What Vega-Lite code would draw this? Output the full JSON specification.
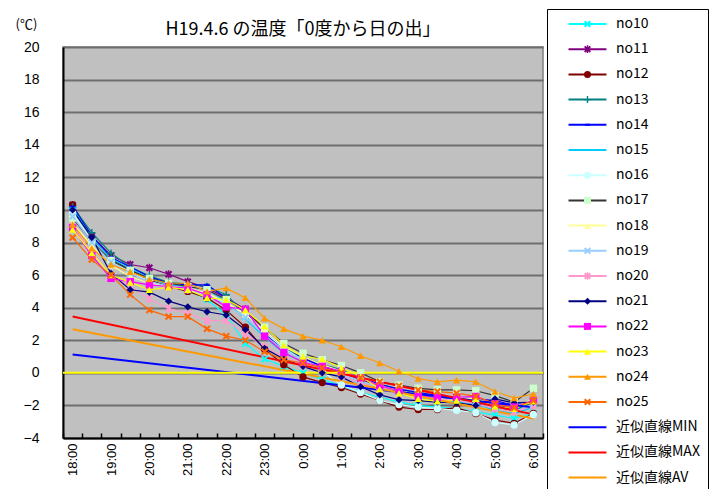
{
"$schema": "https://vega.github.io/schema/vega-lite/v6.json",
"width": 480, "height": 391,
"autosize": {"type": "none"},
"padding": {"left": 63, "top": 47, "right": 179, "bottom": 51},
"background": "white",
"title": {"text": "H19.4.6 の温度「0度から日の出」", "font": "Noto Sans CJK JP", "fontSize": 18, "fontWeight": "normal", "color": "#000000", "anchor": "middle", "offset": 0, "dy": 30},
"config": {"view": {"stroke": "#808080", "strokeWidth": 1.5, "fill": "#C0C0C0"}},
"datasets": {
"series": [
{"s":"no10","i":0,"t":"18:00","v":10.0},{"s":"no10","i":1,"t":"18:30","v":8.3},{"s":"no10","i":2,"t":"19:00","v":7.0},{"s":"no10","i":3,"t":"19:30","v":6.3},{"s":"no10","i":4,"t":"20:00","v":5.7},{"s":"no10","i":5,"t":"20:30","v":5.3},{"s":"no10","i":6,"t":"21:00","v":5.1},{"s":"no10","i":7,"t":"21:30","v":4.5},{"s":"no10","i":8,"t":"22:00","v":3.55},{"s":"no10","i":9,"t":"22:30","v":1.8},{"s":"no10","i":10,"t":"23:00","v":0.85},{"s":"no10","i":11,"t":"23:30","v":0.4},{"s":"no10","i":12,"t":"0:00","v":0.0},{"s":"no10","i":13,"t":"0:30","v":-0.4},{"s":"no10","i":14,"t":"1:00","v":-0.8},{"s":"no10","i":15,"t":"1:30","v":-1.2},{"s":"no10","i":16,"t":"2:00","v":-1.5},{"s":"no10","i":17,"t":"2:30","v":-1.8},{"s":"no10","i":18,"t":"3:00","v":-2.0},{"s":"no10","i":19,"t":"3:30","v":-2.1},{"s":"no10","i":20,"t":"4:00","v":-2.2},{"s":"no10","i":21,"t":"4:30","v":-2.4},{"s":"no10","i":22,"t":"5:00","v":-2.6},{"s":"no10","i":23,"t":"5:30","v":-2.8},{"s":"no10","i":24,"t":"6:00","v":-2.5},
{"s":"no11","i":0,"t":"18:00","v":10.3},{"s":"no11","i":1,"t":"18:30","v":8.4},{"s":"no11","i":2,"t":"19:00","v":7.2},{"s":"no11","i":3,"t":"19:30","v":6.65},{"s":"no11","i":4,"t":"20:00","v":6.45},{"s":"no11","i":5,"t":"20:30","v":6.05},{"s":"no11","i":6,"t":"21:00","v":5.6},{"s":"no11","i":7,"t":"21:30","v":5.2},{"s":"no11","i":8,"t":"22:00","v":4.6},{"s":"no11","i":9,"t":"22:30","v":3.9},{"s":"no11","i":10,"t":"23:00","v":2.6},{"s":"no11","i":11,"t":"23:30","v":1.6},{"s":"no11","i":12,"t":"0:00","v":0.9},{"s":"no11","i":13,"t":"0:30","v":0.4},{"s":"no11","i":14,"t":"1:00","v":0.0},{"s":"no11","i":15,"t":"1:30","v":-0.4},{"s":"no11","i":16,"t":"2:00","v":-0.8},{"s":"no11","i":17,"t":"2:30","v":-1.1},{"s":"no11","i":18,"t":"3:00","v":-1.3},{"s":"no11","i":19,"t":"3:30","v":-1.4},{"s":"no11","i":20,"t":"4:00","v":-1.5},{"s":"no11","i":21,"t":"4:30","v":-1.7},{"s":"no11","i":22,"t":"5:00","v":-2.0},{"s":"no11","i":23,"t":"5:30","v":-2.2},{"s":"no11","i":24,"t":"6:00","v":-1.8},
{"s":"no12","i":0,"t":"18:00","v":10.3},{"s":"no12","i":1,"t":"18:30","v":8.3},{"s":"no12","i":2,"t":"19:00","v":7.0},{"s":"no12","i":3,"t":"19:30","v":6.3},{"s":"no12","i":4,"t":"20:00","v":5.7},{"s":"no12","i":5,"t":"20:30","v":5.3},{"s":"no12","i":6,"t":"21:00","v":5.0},{"s":"no12","i":7,"t":"21:30","v":4.6},{"s":"no12","i":8,"t":"22:00","v":3.85},{"s":"no12","i":9,"t":"22:30","v":2.8},{"s":"no12","i":10,"t":"23:00","v":1.45},{"s":"no12","i":11,"t":"23:30","v":0.5},{"s":"no12","i":12,"t":"0:00","v":-0.25},{"s":"no12","i":13,"t":"0:30","v":-0.6},{"s":"no12","i":14,"t":"1:00","v":-0.9},{"s":"no12","i":15,"t":"1:30","v":-1.3},{"s":"no12","i":16,"t":"2:00","v":-1.7},{"s":"no12","i":17,"t":"2:30","v":-2.1},{"s":"no12","i":18,"t":"3:00","v":-2.25},{"s":"no12","i":19,"t":"3:30","v":-2.25},{"s":"no12","i":20,"t":"4:00","v":-2.15},{"s":"no12","i":21,"t":"4:30","v":-2.5},{"s":"no12","i":22,"t":"5:00","v":-2.9},{"s":"no12","i":23,"t":"5:30","v":-3.1},{"s":"no12","i":24,"t":"6:00","v":-2.5},
{"s":"no13","i":0,"t":"18:00","v":10.2},{"s":"no13","i":1,"t":"18:30","v":8.6},{"s":"no13","i":2,"t":"19:00","v":7.35},{"s":"no13","i":3,"t":"19:30","v":6.5},{"s":"no13","i":4,"t":"20:00","v":5.95},{"s":"no13","i":5,"t":"20:30","v":5.55},{"s":"no13","i":6,"t":"21:00","v":5.45},{"s":"no13","i":7,"t":"21:30","v":5.3},{"s":"no13","i":8,"t":"22:00","v":4.8},{"s":"no13","i":9,"t":"22:30","v":3.6},{"s":"no13","i":10,"t":"23:00","v":2.5},{"s":"no13","i":11,"t":"23:30","v":1.5},{"s":"no13","i":12,"t":"0:00","v":1.0},{"s":"no13","i":13,"t":"0:30","v":0.5},{"s":"no13","i":14,"t":"1:00","v":0.2},{"s":"no13","i":15,"t":"1:30","v":-0.3},{"s":"no13","i":16,"t":"2:00","v":-0.7},{"s":"no13","i":17,"t":"2:30","v":-1.0},{"s":"no13","i":18,"t":"3:00","v":-1.3},{"s":"no13","i":19,"t":"3:30","v":-1.5},{"s":"no13","i":20,"t":"4:00","v":-1.6},{"s":"no13","i":21,"t":"4:30","v":-1.7},{"s":"no13","i":22,"t":"5:00","v":-2.2},{"s":"no13","i":23,"t":"5:30","v":-2.3},{"s":"no13","i":24,"t":"6:00","v":-1.8},
{"s":"no14","i":0,"t":"18:00","v":10.2},{"s":"no14","i":1,"t":"18:30","v":8.4},{"s":"no14","i":2,"t":"19:00","v":7.1},{"s":"no14","i":3,"t":"19:30","v":6.5},{"s":"no14","i":4,"t":"20:00","v":5.9},{"s":"no14","i":5,"t":"20:30","v":5.5},{"s":"no14","i":6,"t":"21:00","v":5.4},{"s":"no14","i":7,"t":"21:30","v":5.4},{"s":"no14","i":8,"t":"22:00","v":4.6},{"s":"no14","i":9,"t":"22:30","v":3.7},{"s":"no14","i":10,"t":"23:00","v":2.4},{"s":"no14","i":11,"t":"23:30","v":1.4},{"s":"no14","i":12,"t":"0:00","v":0.9},{"s":"no14","i":13,"t":"0:30","v":0.4},{"s":"no14","i":14,"t":"1:00","v":0.1},{"s":"no14","i":15,"t":"1:30","v":-0.3},{"s":"no14","i":16,"t":"2:00","v":-0.7},{"s":"no14","i":17,"t":"2:30","v":-1.0},{"s":"no14","i":18,"t":"3:00","v":-1.2},{"s":"no14","i":19,"t":"3:30","v":-1.4},{"s":"no14","i":20,"t":"4:00","v":-1.5},{"s":"no14","i":21,"t":"4:30","v":-1.6},{"s":"no14","i":22,"t":"5:00","v":-1.7},{"s":"no14","i":23,"t":"5:30","v":-2.0},{"s":"no14","i":24,"t":"6:00","v":-1.7},
{"s":"no15","i":0,"t":"18:00","v":10.1},{"s":"no15","i":1,"t":"18:30","v":8.3},{"s":"no15","i":2,"t":"19:00","v":7.0},{"s":"no15","i":3,"t":"19:30","v":6.4},{"s":"no15","i":4,"t":"20:00","v":5.8},{"s":"no15","i":5,"t":"20:30","v":5.4},{"s":"no15","i":6,"t":"21:00","v":5.3},{"s":"no15","i":7,"t":"21:30","v":5.1},{"s":"no15","i":8,"t":"22:00","v":4.4},{"s":"no15","i":9,"t":"22:30","v":3.3},{"s":"no15","i":10,"t":"23:00","v":2.2},{"s":"no15","i":11,"t":"23:30","v":1.2},{"s":"no15","i":12,"t":"0:00","v":0.7},{"s":"no15","i":13,"t":"0:30","v":0.2},{"s":"no15","i":14,"t":"1:00","v":-0.2},{"s":"no15","i":15,"t":"1:30","v":-0.6},{"s":"no15","i":16,"t":"2:00","v":-1.0},{"s":"no15","i":17,"t":"2:30","v":-1.3},{"s":"no15","i":18,"t":"3:00","v":-1.5},{"s":"no15","i":19,"t":"3:30","v":-1.7},{"s":"no15","i":20,"t":"4:00","v":-1.8},{"s":"no15","i":21,"t":"4:30","v":-1.9},{"s":"no15","i":22,"t":"5:00","v":-2.3},{"s":"no15","i":23,"t":"5:30","v":-2.5},{"s":"no15","i":24,"t":"6:00","v":-2.1},
{"s":"no16","i":0,"t":"18:00","v":9.8},{"s":"no16","i":1,"t":"18:30","v":8.1},{"s":"no16","i":2,"t":"19:00","v":6.9},{"s":"no16","i":3,"t":"19:30","v":6.2},{"s":"no16","i":4,"t":"20:00","v":5.6},{"s":"no16","i":5,"t":"20:30","v":5.3},{"s":"no16","i":6,"t":"21:00","v":5.1},{"s":"no16","i":7,"t":"21:30","v":4.8},{"s":"no16","i":8,"t":"22:00","v":4.3},{"s":"no16","i":9,"t":"22:30","v":3.6},{"s":"no16","i":10,"t":"23:00","v":2.5},{"s":"no16","i":11,"t":"23:30","v":1.5},{"s":"no16","i":12,"t":"0:00","v":0.8},{"s":"no16","i":13,"t":"0:30","v":0.1},{"s":"no16","i":14,"t":"1:00","v":-0.75},{"s":"no16","i":15,"t":"1:30","v":-1.2},{"s":"no16","i":16,"t":"2:00","v":-1.7},{"s":"no16","i":17,"t":"2:30","v":-1.95},{"s":"no16","i":18,"t":"3:00","v":-2.1},{"s":"no16","i":19,"t":"3:30","v":-2.2},{"s":"no16","i":20,"t":"4:00","v":-2.3},{"s":"no16","i":21,"t":"4:30","v":-2.45},{"s":"no16","i":22,"t":"5:00","v":-3.05},{"s":"no16","i":23,"t":"5:30","v":-3.2},{"s":"no16","i":24,"t":"6:00","v":-2.55},
{"s":"no17","i":0,"t":"18:00","v":9.5},{"s":"no17","i":1,"t":"18:30","v":8.05},{"s":"no17","i":2,"t":"19:00","v":6.9},{"s":"no17","i":3,"t":"19:30","v":6.3},{"s":"no17","i":4,"t":"20:00","v":5.8},{"s":"no17","i":5,"t":"20:30","v":5.5},{"s":"no17","i":6,"t":"21:00","v":5.3},{"s":"no17","i":7,"t":"21:30","v":5.1},{"s":"no17","i":8,"t":"22:00","v":4.5},{"s":"no17","i":9,"t":"22:30","v":3.8},{"s":"no17","i":10,"t":"23:00","v":2.8},{"s":"no17","i":11,"t":"23:30","v":1.8},{"s":"no17","i":12,"t":"0:00","v":1.2},{"s":"no17","i":13,"t":"0:30","v":0.8},{"s":"no17","i":14,"t":"1:00","v":0.45},{"s":"no17","i":15,"t":"1:30","v":0.0},{"s":"no17","i":16,"t":"2:00","v":-0.55},{"s":"no17","i":17,"t":"2:30","v":-0.75},{"s":"no17","i":18,"t":"3:00","v":-0.95},{"s":"no17","i":19,"t":"3:30","v":-1.05},{"s":"no17","i":20,"t":"4:00","v":-1.05},{"s":"no17","i":21,"t":"4:30","v":-1.1},{"s":"no17","i":22,"t":"5:00","v":-1.4},{"s":"no17","i":23,"t":"5:30","v":-1.8},{"s":"no17","i":24,"t":"6:00","v":-0.95},
{"s":"no18","i":0,"t":"18:00","v":9.2},{"s":"no18","i":1,"t":"18:30","v":7.8},{"s":"no18","i":2,"t":"19:00","v":6.6},{"s":"no18","i":3,"t":"19:30","v":5.9},{"s":"no18","i":4,"t":"20:00","v":5.5},{"s":"no18","i":5,"t":"20:30","v":5.3},{"s":"no18","i":6,"t":"21:00","v":5.2},{"s":"no18","i":7,"t":"21:30","v":4.9},{"s":"no18","i":8,"t":"22:00","v":4.3},{"s":"no18","i":9,"t":"22:30","v":3.6},{"s":"no18","i":10,"t":"23:00","v":2.6},{"s":"no18","i":11,"t":"23:30","v":1.6},{"s":"no18","i":12,"t":"0:00","v":1.0},{"s":"no18","i":13,"t":"0:30","v":0.5},{"s":"no18","i":14,"t":"1:00","v":0.1},{"s":"no18","i":15,"t":"1:30","v":-0.3},{"s":"no18","i":16,"t":"2:00","v":-0.8},{"s":"no18","i":17,"t":"2:30","v":-1.1},{"s":"no18","i":18,"t":"3:00","v":-1.3},{"s":"no18","i":19,"t":"3:30","v":-1.5},{"s":"no18","i":20,"t":"4:00","v":-1.5},{"s":"no18","i":21,"t":"4:30","v":-1.6},{"s":"no18","i":22,"t":"5:00","v":-1.9},{"s":"no18","i":23,"t":"5:30","v":-2.1},{"s":"no18","i":24,"t":"6:00","v":-1.6},
{"s":"no19","i":0,"t":"18:00","v":9.6},{"s":"no19","i":1,"t":"18:30","v":8.0},{"s":"no19","i":2,"t":"19:00","v":6.8},{"s":"no19","i":3,"t":"19:30","v":6.1},{"s":"no19","i":4,"t":"20:00","v":5.6},{"s":"no19","i":5,"t":"20:30","v":5.3},{"s":"no19","i":6,"t":"21:00","v":5.1},{"s":"no19","i":7,"t":"21:30","v":4.8},{"s":"no19","i":8,"t":"22:00","v":4.2},{"s":"no19","i":9,"t":"22:30","v":3.4},{"s":"no19","i":10,"t":"23:00","v":2.3},{"s":"no19","i":11,"t":"23:30","v":1.4},{"s":"no19","i":12,"t":"0:00","v":0.8},{"s":"no19","i":13,"t":"0:30","v":0.3},{"s":"no19","i":14,"t":"1:00","v":-0.1},{"s":"no19","i":15,"t":"1:30","v":-0.5},{"s":"no19","i":16,"t":"2:00","v":-0.9},{"s":"no19","i":17,"t":"2:30","v":-1.2},{"s":"no19","i":18,"t":"3:00","v":-1.4},{"s":"no19","i":19,"t":"3:30","v":-1.6},{"s":"no19","i":20,"t":"4:00","v":-1.7},{"s":"no19","i":21,"t":"4:30","v":-1.8},{"s":"no19","i":22,"t":"5:00","v":-2.2},{"s":"no19","i":23,"t":"5:30","v":-2.4},{"s":"no19","i":24,"t":"6:00","v":-1.9},
{"s":"no20","i":0,"t":"18:00","v":9.0},{"s":"no20","i":1,"t":"18:30","v":7.4},{"s":"no20","i":2,"t":"19:00","v":6.0},{"s":"no20","i":3,"t":"19:30","v":5.3},{"s":"no20","i":4,"t":"20:00","v":4.55},{"s":"no20","i":5,"t":"20:30","v":3.95},{"s":"no20","i":6,"t":"21:00","v":3.65},{"s":"no20","i":7,"t":"21:30","v":3.2},{"s":"no20","i":8,"t":"22:00","v":3.2},{"s":"no20","i":9,"t":"22:30","v":2.4},{"s":"no20","i":10,"t":"23:00","v":1.6},{"s":"no20","i":11,"t":"23:30","v":1.0},{"s":"no20","i":12,"t":"0:00","v":0.5},{"s":"no20","i":13,"t":"0:30","v":0.2},{"s":"no20","i":14,"t":"1:00","v":-0.2},{"s":"no20","i":15,"t":"1:30","v":-0.6},{"s":"no20","i":16,"t":"2:00","v":-1.0},{"s":"no20","i":17,"t":"2:30","v":-1.3},{"s":"no20","i":18,"t":"3:00","v":-1.5},{"s":"no20","i":19,"t":"3:30","v":-1.6},{"s":"no20","i":20,"t":"4:00","v":-1.7},{"s":"no20","i":21,"t":"4:30","v":-1.9},{"s":"no20","i":22,"t":"5:00","v":-2.2},{"s":"no20","i":23,"t":"5:30","v":-2.4},{"s":"no20","i":24,"t":"6:00","v":-2.0},
{"s":"no21","i":0,"t":"18:00","v":10.0},{"s":"no21","i":1,"t":"18:30","v":8.3},{"s":"no21","i":2,"t":"19:00","v":6.1},{"s":"no21","i":3,"t":"19:30","v":5.1},{"s":"no21","i":4,"t":"20:00","v":4.95},{"s":"no21","i":5,"t":"20:30","v":4.4},{"s":"no21","i":6,"t":"21:00","v":4.05},{"s":"no21","i":7,"t":"21:30","v":3.75},{"s":"no21","i":8,"t":"22:00","v":3.55},{"s":"no21","i":9,"t":"22:30","v":2.65},{"s":"no21","i":10,"t":"23:00","v":1.5},{"s":"no21","i":11,"t":"23:30","v":0.85},{"s":"no21","i":12,"t":"0:00","v":0.4},{"s":"no21","i":13,"t":"0:30","v":0.0},{"s":"no21","i":14,"t":"1:00","v":-0.25},{"s":"no21","i":15,"t":"1:30","v":-0.85},{"s":"no21","i":16,"t":"2:00","v":-1.35},{"s":"no21","i":17,"t":"2:30","v":-1.65},{"s":"no21","i":18,"t":"3:00","v":-1.7},{"s":"no21","i":19,"t":"3:30","v":-1.8},{"s":"no21","i":20,"t":"4:00","v":-1.85},{"s":"no21","i":21,"t":"4:30","v":-2.0},{"s":"no21","i":22,"t":"5:00","v":-1.6},{"s":"no21","i":23,"t":"5:30","v":-1.85},{"s":"no21","i":24,"t":"6:00","v":-1.8},
{"s":"no22","i":0,"t":"18:00","v":8.9},{"s":"no22","i":1,"t":"18:30","v":7.2},{"s":"no22","i":2,"t":"19:00","v":5.8},{"s":"no22","i":3,"t":"19:30","v":5.6},{"s":"no22","i":4,"t":"20:00","v":5.4},{"s":"no22","i":5,"t":"20:30","v":5.3},{"s":"no22","i":6,"t":"21:00","v":5.2},{"s":"no22","i":7,"t":"21:30","v":4.8},{"s":"no22","i":8,"t":"22:00","v":4.05},{"s":"no22","i":9,"t":"22:30","v":3.9},{"s":"no22","i":10,"t":"23:00","v":2.25},{"s":"no22","i":11,"t":"23:30","v":1.25},{"s":"no22","i":12,"t":"0:00","v":0.65},{"s":"no22","i":13,"t":"0:30","v":0.4},{"s":"no22","i":14,"t":"1:00","v":0.1},{"s":"no22","i":15,"t":"1:30","v":-0.3},{"s":"no22","i":16,"t":"2:00","v":-0.8},{"s":"no22","i":17,"t":"2:30","v":-1.1},{"s":"no22","i":18,"t":"3:00","v":-1.45},{"s":"no22","i":19,"t":"3:30","v":-1.5},{"s":"no22","i":20,"t":"4:00","v":-1.5},{"s":"no22","i":21,"t":"4:30","v":-1.45},{"s":"no22","i":22,"t":"5:00","v":-1.9},{"s":"no22","i":23,"t":"5:30","v":-2.1},{"s":"no22","i":24,"t":"6:00","v":-1.7},
{"s":"no23","i":0,"t":"18:00","v":8.8},{"s":"no23","i":1,"t":"18:30","v":7.35},{"s":"no23","i":2,"t":"19:00","v":6.0},{"s":"no23","i":3,"t":"19:30","v":5.55},{"s":"no23","i":4,"t":"20:00","v":5.1},{"s":"no23","i":5,"t":"20:30","v":5.25},{"s":"no23","i":6,"t":"21:00","v":5.1},{"s":"no23","i":7,"t":"21:30","v":4.6},{"s":"no23","i":8,"t":"22:00","v":4.5},{"s":"no23","i":9,"t":"22:30","v":3.85},{"s":"no23","i":10,"t":"23:00","v":2.85},{"s":"no23","i":11,"t":"23:30","v":1.7},{"s":"no23","i":12,"t":"0:00","v":1.0},{"s":"no23","i":13,"t":"0:30","v":0.85},{"s":"no23","i":14,"t":"1:00","v":0.3},{"s":"no23","i":15,"t":"1:30","v":-0.2},{"s":"no23","i":16,"t":"2:00","v":-1.0},{"s":"no23","i":17,"t":"2:30","v":-1.25},{"s":"no23","i":18,"t":"3:00","v":-1.6},{"s":"no23","i":19,"t":"3:30","v":-1.75},{"s":"no23","i":20,"t":"4:00","v":-1.7},{"s":"no23","i":21,"t":"4:30","v":-1.6},{"s":"no23","i":22,"t":"5:00","v":-2.05},{"s":"no23","i":23,"t":"5:30","v":-2.2},{"s":"no23","i":24,"t":"6:00","v":-1.75},
{"s":"no24","i":0,"t":"18:00","v":9.1},{"s":"no24","i":1,"t":"18:30","v":7.65},{"s":"no24","i":2,"t":"19:00","v":6.65},{"s":"no24","i":3,"t":"19:30","v":6.2},{"s":"no24","i":4,"t":"20:00","v":5.75},{"s":"no24","i":5,"t":"20:30","v":5.5},{"s":"no24","i":6,"t":"21:00","v":5.5},{"s":"no24","i":7,"t":"21:30","v":5.0},{"s":"no24","i":8,"t":"22:00","v":5.2},{"s":"no24","i":9,"t":"22:30","v":4.6},{"s":"no24","i":10,"t":"23:00","v":3.35},{"s":"no24","i":11,"t":"23:30","v":2.7},{"s":"no24","i":12,"t":"0:00","v":2.25},{"s":"no24","i":13,"t":"0:30","v":2.0},{"s":"no24","i":14,"t":"1:00","v":1.6},{"s":"no24","i":15,"t":"1:30","v":1.05},{"s":"no24","i":16,"t":"2:00","v":0.6},{"s":"no24","i":17,"t":"2:30","v":0.1},{"s":"no24","i":18,"t":"3:00","v":-0.35},{"s":"no24","i":19,"t":"3:30","v":-0.55},{"s":"no24","i":20,"t":"4:00","v":-0.45},{"s":"no24","i":21,"t":"4:30","v":-0.55},{"s":"no24","i":22,"t":"5:00","v":-1.15},{"s":"no24","i":23,"t":"5:30","v":-1.55},{"s":"no24","i":24,"t":"6:00","v":-1.3},
{"s":"no25","i":0,"t":"18:00","v":8.3},{"s":"no25","i":1,"t":"18:30","v":6.95},{"s":"no25","i":2,"t":"19:00","v":6.0},{"s":"no25","i":3,"t":"19:30","v":4.8},{"s":"no25","i":4,"t":"20:00","v":3.85},{"s":"no25","i":5,"t":"20:30","v":3.45},{"s":"no25","i":6,"t":"21:00","v":3.45},{"s":"no25","i":7,"t":"21:30","v":2.7},{"s":"no25","i":8,"t":"22:00","v":2.25},{"s":"no25","i":9,"t":"22:30","v":2.0},{"s":"no25","i":10,"t":"23:00","v":1.3},{"s":"no25","i":11,"t":"23:30","v":0.8},{"s":"no25","i":12,"t":"0:00","v":0.6},{"s":"no25","i":13,"t":"0:30","v":0.3},{"s":"no25","i":14,"t":"1:00","v":0.0},{"s":"no25","i":15,"t":"1:30","v":-0.3},{"s":"no25","i":16,"t":"2:00","v":-0.55},{"s":"no25","i":17,"t":"2:30","v":-0.8},{"s":"no25","i":18,"t":"3:00","v":-1.05},{"s":"no25","i":19,"t":"3:30","v":-1.15},{"s":"no25","i":20,"t":"4:00","v":-1.25},{"s":"no25","i":21,"t":"4:30","v":-1.45},{"s":"no25","i":22,"t":"5:00","v":-1.9},{"s":"no25","i":23,"t":"5:30","v":-2.15},{"s":"no25","i":24,"t":"6:00","v":-1.7}
],
"trend": [
{"s":"近似直線MIN","i":0,"t":"18:00","v":1.13},{"s":"近似直線MIN","i":24,"t":"6:00","v":-2.12},
{"s":"近似直線MAX","i":0,"t":"18:00","v":3.46},{"s":"近似直線MAX","i":24,"t":"6:00","v":-2.55},
{"s":"近似直線AV","i":0,"t":"18:00","v":2.68},{"s":"近似直線AV","i":24,"t":"6:00","v":-2.8}
],
"zero": [{"z": 0}]
},
"layer": [
{"data": {"name": "series"},
 "mark": {"type": "line", "strokeWidth": 1.2},
 "encoding": {
  "x": {"field": "t", "type": "ordinal",
   "scale": {"type": "band", "paddingInner": 0, "paddingOuter": 0, "domain": ["18:00","18:30","19:00","19:30","20:00","20:30","21:00","21:30","22:00","22:30","23:00","23:30","0:00","0:30","1:00","1:30","2:00","2:30","3:00","3:30","4:00","4:30","5:00","5:30","6:00"]},
   "axis": {"title": null, "orient": "bottom", "labelAngle": -90, "labelFont": "Liberation Sans", "labelFontSize": 13, "labelColor": "#000000", "labelPadding": 10, "labelExpr": "indexof('' + datum.value, ':00') > 0 ? ('' + datum.value) : ''", "labelOverlap": false, "tickBand": "extent", "tickSize": -5, "tickColor": "#000000", "tickWidth": 1.5, "domainColor": "#000000", "domainWidth": 2, "grid": false}},
  "y": {"field": "v", "type": "quantitative",
   "scale": {"domain": [-4, 20], "nice": false, "zero": false},
   "axis": {"title": "(℃)", "orient": "left", "titleAngle": 0, "titleX": -48, "titleY": -23, "titleAlign": "left", "titleBaseline": "middle", "titleFont": "Noto Sans CJK JP", "titleFontSize": 13, "titleFontWeight": "normal", "titleColor": "#000000", "values": [-4,-2,0,2,4,6,8,10,12,14,16,18,20], "tickCount": 30, "labelOverlap": false, "labelFont": "Liberation Sans", "labelFontSize": 14, "labelColor": "#000000", "labelPadding": 24, "ticks": false, "domainColor": "#000000", "domainWidth": 2, "gridColor": "#6e6e6e", "gridWidth": 2}},
  "stroke": {"field": "s", "type": "nominal",
   "scale": {"domain": ["no10","no11","no12","no13","no14","no15","no16","no17","no18","no19","no20","no21","no22","no23","no24","no25","近似直線MIN","近似直線MAX","近似直線AV"],
    "range": ["#00FFFF","#800080","#800000","#008080","#0000FF","#00CCFF","#CCFFFF","#333333","#FFFF99","#99CCFF","#FF99CC","#000080","#FF00FF","#FFFF00","#FF9900","#FF6600","#0000FF","#FF0000","#FF9900"]},
   "legend": {"orient": "none", "legendX": 484, "legendY": -38, "direction": "vertical", "title": null, "symbolType": "M1.86,0H12.7", "symbolSize": 49, "symbolStrokeWidth": 2, "labelFont": "Noto Sans CJK JP", "labelFontSize": 14, "labelColor": "#000000", "labelOffset": 47, "labelLimit": 300, "rowPadding": 11.2, "padding": 8, "strokeColor": "#000000"}},
  "order": {"field": "i", "type": "quantitative"}
 }},
{"data": {"name": "trend"},
 "mark": {"type": "line", "strokeWidth": 2},
 "encoding": {
  "x": {"field": "t", "type": "ordinal"},
  "y": {"field": "v", "type": "quantitative"},
  "stroke": {"field": "s", "type": "nominal"},
  "order": {"field": "i", "type": "quantitative"}
 }},
{"data": {"name": "zero"},
 "mark": {"type": "rule", "color": "#FFFF00", "strokeWidth": 2},
 "encoding": {"y": {"field": "z", "type": "quantitative"}}},
{"data": {"name": "series"},
 "mark": {"type": "point", "filled": true, "size": 55, "opacity": 1, "strokeWidth": 0},
 "encoding": {
  "x": {"field": "t", "type": "ordinal"},
  "y": {"field": "v", "type": "quantitative"},
  "fill": {"field": "s", "type": "nominal",
   "scale": {"domain": ["no10","no11","no12","no13","no14","no15","no16","no17","no18","no19","no20","no21","no22","no23","no24","no25"],
    "range": ["#00FFFF","#800080","#800000","#008080","#0000FF","#00CCFF","#CCFFFF","#CCFFCC","#FFFF99","#99CCFF","#FF99CC","#000080","#FF00FF","#FFFF00","#FF9900","#FF6600"]},
   "legend": {"orient": "none", "legendX": 517.5, "legendY": -30, "direction": "vertical", "title": null, "symbolSize": 49, "symbolStrokeWidth": 0, "labelFont": "Noto Sans CJK JP", "labelFontSize": 14, "labelExpr": "''", "labelOffset": 47, "labelLimit": 300, "rowPadding": 11.2, "padding": 0}},
  "shape": {"field": "s", "type": "nominal",
   "scale": {"domain": ["no10","no11","no12","no13","no14","no15","no16","no17","no18","no19","no20","no21","no22","no23","no24","no25"],
    "range": ["M-1,-0.6L-0.6,-1L0,-0.4L0.6,-1L1,-0.6L0.4,0L1,0.6L0.6,1L0,0.4L-0.6,1L-1,0.6L-0.4,0Z",
     "M-1,-0.6L-0.6,-1L0,-0.4L0.6,-1L1,-0.6L0.4,0L1,0.6L0.6,1L0,0.4L-0.6,1L-1,0.6L-0.4,0ZM-0.2,-1.1H0.2V1.1H-0.2Z",
     "circle",
     "M-1,-0.2H-0.2V-1H0.2V-0.2H1V0.2H0.2V1H-0.2V0.2H-1Z",
     "M-0.7,-0.3H0.7V0.3H-0.7Z",
     "M-1,-0.25H1V0.25H-1Z",
     "circle", "square", "triangle-up",
     "M-1,-0.6L-0.6,-1L0,-0.4L0.6,-1L1,-0.6L0.4,0L1,0.6L0.6,1L0,0.4L-0.6,1L-1,0.6L-0.4,0Z",
     "M-1,-0.6L-0.6,-1L0,-0.4L0.6,-1L1,-0.6L0.4,0L1,0.6L0.6,1L0,0.4L-0.6,1L-1,0.6L-0.4,0ZM-0.2,-1.1H0.2V1.1H-0.2Z",
     "diamond", "square", "triangle-up", "triangle-up",
     "M-1,-0.6L-0.6,-1L0,-0.4L0.6,-1L1,-0.6L0.4,0L1,0.6L0.6,1L0,0.4L-0.6,1L-1,0.6L-0.4,0Z"]},
   "legend": {"orient": "none", "legendX": 517.5, "legendY": -30, "direction": "vertical", "title": null, "symbolSize": 49, "symbolStrokeWidth": 0, "labelFont": "Noto Sans CJK JP", "labelFontSize": 14, "labelExpr": "''", "labelOffset": 47, "labelLimit": 300, "rowPadding": 11.2, "padding": 0}}
 }}
]
}
